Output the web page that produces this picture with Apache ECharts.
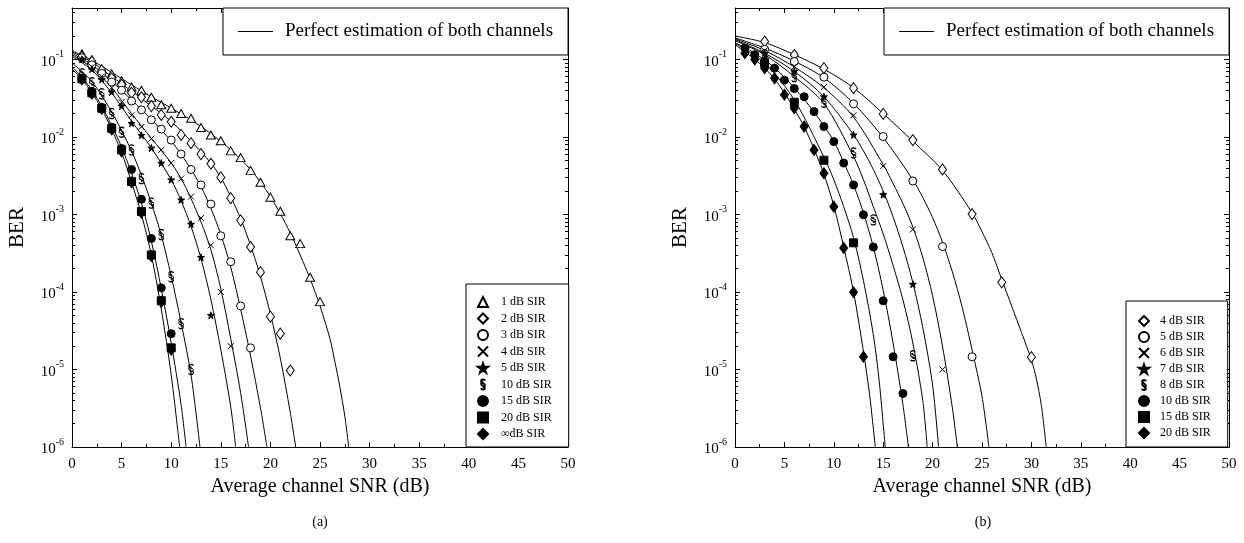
<!DOCTYPE html>
<html>
<head>
<meta charset="utf-8">
<script src="https://cdn.jsdelivr.net/npm/echarts@6/dist/echarts.min.js"></script>
<style>
html,body{margin:0;padding:0;background:#fff;}
#chart{width:1244px;height:543px;}
</style>
</head>
<body>
<div id="chart"></div>
<script>
// ---------------- DATA ----------------
const xTicks = [0, 5, 10, 15, 20, 25, 30, 35, 40, 45, 50];
const lineName = 'Perfect estimation of both channels';

// Chart (a): simulated points (markers)
const a1_x = [1,2,3,4,5,6,7,8,9,10,11,12,13,14,15,16,17,18,19,20,21,22,23,24,25];
const a1_y = [0.118,0.099,0.075,0.065,0.053,0.044,0.040,0.0325,0.026,0.0234,0.020,0.0174,0.0132,0.0106,0.0089,0.0066,0.0054,0.0037,0.0026,0.00167,0.0011,0.00053,0.00042,0.000155,0.000075];
const a2_x = [1,2,3,4,5,6,7,8,9,10,11,12,13,14,15,16,17,18,19,20,21,22];
const a2_y = [0.109,0.094,0.072,0.057,0.047,0.037,0.0325,0.025,0.0192,0.0157,0.0106,0.0083,0.0060,0.0045,0.0030,0.00162,0.00084,0.00038,0.00018,0.000048,0.000029,0.0000097];
const a3_x = [1,2,3,4,5,6,7,8,9,10,11,12,13,14,15,16,17,18];
const a3_y = [0.105,0.085,0.066,0.051,0.040,0.029,0.0223,0.0166,0.0126,0.0091,0.0060,0.0038,0.0024,0.00136,0.00053,0.000245,0.000066,0.000019];
const a4_x = [1,2,3,4,5,6,7,8,9,10,11,12,13,14,15,16];
const a4_y = [0.100,0.080,0.060,0.043,0.028,0.019,0.0135,0.0095,0.0068,0.0046,0.0029,0.0017,0.0009,0.0004,0.0001,0.00002];
const a5_x = [1,2,3,4,5,6,7,8,9,10,11,12,13,14];
const a5_y = [0.100,0.075,0.055,0.038,0.025,0.015,0.0105,0.0072,0.0046,0.0028,0.00154,0.00075,0.00028,0.00005];
const a10_x = [1,2,3,4,5,6,7,8,9,10,11,12];
const a10_y = [0.065,0.050,0.036,0.020,0.0115,0.0068,0.0029,0.0014,0.00055,0.000157,0.000039,0.00001];
const a15_x = [1,2,3,4,5,6,7,8,9,10];
const a15_y = [0.057,0.038,0.024,0.0133,0.0071,0.0038,0.00157,0.00049,0.000113,0.000029];
const a20_x = [1,2,3,4,5,6,7,8,9,10];
const a20_y = [0.056,0.037,0.0234,0.0129,0.0068,0.00265,0.00109,0.00030,0.000077,0.000019];
const aInf_x = [1,2,3,4,5,6,7,8,9,10];
const aInf_y = [0.055,0.036,0.023,0.0125,0.0065,0.0026,0.00105,0.00029,0.000075,0.000018];

// Chart (a): perfect-estimation curves
const ta1_x = [0,2,4,6,8,10,12,14,16,18,19,20,21,22,23,24,25,26,26.5,27,27.5,27.9];
const ta1_y = [0.13,0.097,0.068,0.047,0.033,0.0235,0.0165,0.011,0.0068,0.0038,0.0026,0.0017,0.00102,0.00058,0.0003,0.000148,0.000066,0.000025,0.0000126,0.000006,0.0000025,0.000001];
const ta2_x = [0,2,4,6,8,10,12,14,15,16,17,18,19,20,21,22,22.55];
const ta2_y = [0.125,0.092,0.06,0.039,0.025,0.0158,0.0088,0.0046,0.003,0.0017,0.00088,0.0004,0.000158,0.000052,0.000014,0.0000028,0.000001];
const ta3_x = [0,2,4,6,8,10,11,12,13,14,15,16,17,18,19,19.65];
const ta3_y = [0.12,0.085,0.052,0.03,0.0168,0.0088,0.006,0.0038,0.0023,0.0012,0.00055,0.00021,0.00006,0.000015,0.0000032,0.000001];
const ta4_x = [0,2,4,6,8,10,11,12,13,14,15,16,17,17.8];
const ta4_y = [0.115,0.078,0.043,0.02,0.0096,0.0046,0.0029,0.0016,0.0008,0.00035,0.00011,0.000025,0.000005,0.000001];
const ta5_x = [0,2,4,6,8,10,11,12,13,14,15,16,16.5];
const ta5_y = [0.11,0.073,0.037,0.016,0.0072,0.0028,0.0015,0.0007,0.00027,0.00008,0.000018,0.0000033,0.000001];
const ta10_x = [0,2,4,5,6,7,8,9,10,11,12,12.9];
const ta10_y = [0.09,0.052,0.021,0.012,0.0066,0.0032,0.0014,0.00054,0.00016,0.00004,0.0000085,0.000001];
const ta15_x = [0,1,2,3,4,5,6,7,8,9,10,11,11.5];
const ta15_y = [0.08,0.059,0.04,0.025,0.014,0.0074,0.0034,0.0014,0.00045,0.00011,0.000022,0.0000035,0.000001];
const ta20_x = [0,1,2,3,4,5,6,7,8,9,10,10.85];
const ta20_y = [0.075,0.056,0.037,0.023,0.0125,0.0063,0.0026,0.001,0.0003,0.00006,0.0000085,0.000001];

// Chart (b): simulated points (markers)
const b4_x = [3,6,9,12,15,18,21,24,27,30];
const b4_y = [0.17,0.114,0.077,0.0425,0.0198,0.0091,0.0038,0.00101,0.000133,0.0000144];
const b5_x = [3,6,9,12,15,18,21,24];
const b5_y = [0.135,0.094,0.059,0.0267,0.0101,0.0027,0.000385,0.0000146];
const b6_x = [3,6,9,12,15,18,21];
const b6_y = [0.13,0.08,0.044,0.019,0.0042,0.00064,0.00001];
const b7_x = [3,6,9,12,15,18];
const b7_y = [0.12,0.07,0.033,0.0106,0.0018,0.000126];
const b8_x = [3,6,9,12,14,18];
const b8_y = [0.115,0.06,0.028,0.0062,0.00085,0.000015];
const b10_x = [1,2,3,4,5,6,7,8,9,10,11,12,13,14,15,16,17];
const b10_y = [0.14,0.115,0.095,0.077,0.054,0.042,0.033,0.0212,0.0136,0.0087,0.0046,0.0024,0.00099,0.00038,0.000077,0.0000146,0.0000049];
const b15_x = [3,6,9,12];
const b15_y = [0.09,0.028,0.005,0.00043];
const b20_x = [1,2,3,4,5,6,7,8,9,10,11,12,13];
const b20_y = [0.12,0.1,0.077,0.057,0.035,0.0234,0.0136,0.0068,0.0034,0.00126,0.00037,0.000099,0.0000146];

// Chart (b): perfect-estimation curves
const tb4_x = [0,3,6,9,12,15,18,21,24,25,26,27,28,29,30,30.5,31,31.5];
const tb4_y = [0.2,0.165,0.115,0.075,0.043,0.02,0.0088,0.0037,0.00105,0.0006,0.00032,0.000145,0.000066,0.00003,0.0000132,0.0000076,0.0000035,0.000001];
const tb5_x = [0,3,6,9,12,15,18,19,20,21,22,23,24,25,25.7];
const tb5_y = [0.19,0.14,0.095,0.058,0.027,0.0098,0.0028,0.00166,0.00091,0.00044,0.000182,0.000063,0.0000178,0.0000045,0.000001];
const tb6_x = [0,3,6,9,12,15,16,17,18,19,20,21,22,22.5];
const tb6_y = [0.185,0.13,0.08,0.043,0.018,0.0044,0.0025,0.00138,0.00069,0.00028,0.000089,0.00002,0.0000032,0.000001];
const tb7_x = [0,3,6,9,12,13,14,15,16,17,18,19,20,20.6];
const tb7_y = [0.18,0.12,0.07,0.033,0.0107,0.0066,0.0038,0.002,0.00093,0.00038,0.000132,0.000035,0.0000063,0.000001];
const tb8_x = [0,3,6,9,12,13,14,15,16,17,18,19,19.45];
const tb8_y = [0.175,0.115,0.06,0.027,0.0056,0.0028,0.00126,0.00056,0.00022,0.000079,0.000022,0.000004,0.000001];
const tb10_x = [0,2,4,6,8,10,11,12,13,14,15,16,17,17.55];
const tb10_y = [0.165,0.12,0.078,0.043,0.021,0.0088,0.0047,0.0024,0.00105,0.00038,0.000105,0.000022,0.0000035,0.000001];
const tb15_x = [0,3,6,9,10,11,12,13,14,14.6,15.2];
const tb15_y = [0.16,0.09,0.03,0.0055,0.0028,0.00126,0.0005,0.00014,0.000028,0.000007,0.000001];
const tb20_x = [0,1,2,3,4,5,6,7,8,9,10,11,12,13,13.6,14.2];
const tb20_y = [0.155,0.125,0.1,0.077,0.056,0.037,0.023,0.0135,0.007,0.0033,0.0013,0.00038,0.0001,0.000017,0.000005,0.000001];

// Legend labels
const legendA = ['1 dB SIR','2 dB SIR','3 dB SIR','4 dB SIR','5 dB SIR','10 dB SIR','15 dB SIR','20 dB SIR','\u221EdB SIR'];
const legendB = ['4 dB SIR','5 dB SIR','6 dB SIR','7 dB SIR','8 dB SIR','10 dB SIR','15 dB SIR','20 dB SIR'];

// ---------------- STYLE ----------------
const SERIF = '"Liberation Serif", "DejaVu Serif", serif';
const P_X = 'path://M0,0L10,10M10,0L0,10';
const P_STAR = 'path://M5,0L6.18,3.62L10,3.62L6.91,5.86L8.09,9.5L5,7.24L1.91,9.5L3.09,5.86L0,3.62L3.82,3.62Z';
const P_SECT = 'path://M8,3C8,0 2,0 2,3.5C2,7 8,6.5 8,10C8,12 6,13 4.5,13M2,15C2,18 8,18 8,14.5C8,11 2,11.5 2,8C2,6 4,5 5.5,5';

const MK = {
  tri:  {symbol:'triangle', size:[9,8],  fill:'#fff'},
  dia:  {symbol:'diamond',  size:[8,11], fill:'#fff'},
  cir:  {symbol:'circle',   size:8,      fill:'#fff'},
  x:    {symbol:P_X,        size:6,      fill:'rgba(0,0,0,0)'},
  star: {symbol:P_STAR,     size:7,      fill:'#000'},
  sect: {symbol:P_SECT,     size:[5,10], fill:'rgba(0,0,0,0)'},
  fcir: {symbol:'circle',   size:8,      fill:'#000'},
  sq:   {symbol:'rect',     size:8,      fill:'#000'},
  fdia: {symbol:'diamond',  size:[8,11], fill:'#000'}
};

function zip(xs, ys){ return xs.map((x,i)=>[x, ys[i]]); }

function markerSeries(name, idx, xs, ys, mk, z){
  const m = MK[mk];
  return {
    type:'scatter', name:name, xAxisIndex:idx*2, yAxisIndex:idx*2,
    data: zip(xs, ys), symbol:m.symbol, symbolSize:m.size, z: z || 3,
    itemStyle:{color:m.fill, borderColor:'#000', borderWidth:1, opacity:1},
    emphasis:{disabled:true}, silent:true
  };
}
function curveSeries(idx, xs, ys){
  return {
    type:'line', name:lineName, xAxisIndex:idx*2, yAxisIndex:idx*2,
    data: zip(xs, ys), symbol:'none', showSymbol:false, smooth:0.3,
    lineStyle:{color:'#000', width:1}, itemStyle:{color:'#000'}, z:2,
    emphasis:{disabled:true}, silent:true, clip:true
  };
}

const grids = [
  {left:72, top:8, width:496, height:439},
  {left:735, top:8, width:494, height:439}
];

function xAxes(gi){
  const base = {
    gridIndex:gi, type:'value', min:0, max:50, interval:5,
    axisLine:{show:true, onZero:false, lineStyle:{color:'#000', width:1}},
    axisTick:{show:true, inside:true, length:5, lineStyle:{color:'#000'}},
    minorTick:{show:true, splitNumber:2, length:3, lineStyle:{color:'#000'}},
    splitLine:{show:false}
  };
  return [
    Object.assign({}, base, {position:'bottom',
      axisLabel:{show:true, fontSize:15, color:'#000', fontFamily:SERIF, margin:10,
        formatter:(v)=> xTicks.indexOf(v) >= 0 ? String(v) : ''},
      name:'Average channel SNR (dB)', nameLocation:'middle', nameGap:29,
      nameTextStyle:{fontSize:20, color:'#000', fontFamily:SERIF}}),
    Object.assign({}, base, {position:'top', axisLabel:{show:false}})
  ];
}
function powLabel(v){
  const l = Math.log10(v), e = Math.round(l);
  if (Math.abs(l - e) > 0.01) return '';
  return '{b|10}{e|' + e + '}';
}
function yAxes(gi){
  const base = {
    gridIndex:gi, type:'log', logBase:10, min:1e-6, max:0.46,
    axisLine:{show:true, onZero:false, lineStyle:{color:'#000', width:1}},
    axisTick:{show:true, inside:true, length:5, lineStyle:{color:'#000'}},
    minorTick:{show:true, splitNumber:9, length:3, lineStyle:{color:'#000'}},
    splitLine:{show:false}
  };
  return [
    Object.assign({}, base, {position:'left',
      axisLabel:{show:true, margin:8, color:'#000', showMaxLabel:false,
        formatter:powLabel,
        rich:{
          b:{fontSize:15, fontFamily:SERIF, color:'#000', verticalAlign:'bottom', lineHeight:20},
          e:{fontSize:10, fontFamily:SERIF, color:'#000', verticalAlign:'top', lineHeight:20}
        }},
      name:'BER', nameLocation:'middle', nameGap:44, nameRotate:90,
      nameTextStyle:{fontSize:21, color:'#000', fontFamily:SERIF}}),
    Object.assign({}, base, {position:'right', axisLabel:{show:false}})
  ];
}

const xAxis = [].concat(xAxes(0), xAxes(1));
const yAxis = [].concat(yAxes(0), yAxes(1));

const nameA = legendA.map(s=>'a:'+s);
const nameB = legendB.map(s=>'b:'+s);

const series = [
  curveSeries(0, ta1_x, ta1_y), curveSeries(0, ta2_x, ta2_y), curveSeries(0, ta3_x, ta3_y),
  curveSeries(0, ta4_x, ta4_y), curveSeries(0, ta5_x, ta5_y), curveSeries(0, ta10_x, ta10_y),
  curveSeries(0, ta15_x, ta15_y), curveSeries(0, ta20_x, ta20_y),
  markerSeries(nameA[8], 0, aInf_x, aInf_y, 'fdia', 3),
  markerSeries(nameA[0], 0, a1_x, a1_y, 'tri', 4),
  markerSeries(nameA[1], 0, a2_x, a2_y, 'dia', 4),
  markerSeries(nameA[2], 0, a3_x, a3_y, 'cir', 4),
  markerSeries(nameA[3], 0, a4_x, a4_y, 'x', 4),
  markerSeries(nameA[4], 0, a5_x, a5_y, 'star', 4),
  markerSeries(nameA[5], 0, a10_x, a10_y, 'sect', 4),
  markerSeries(nameA[6], 0, a15_x, a15_y, 'fcir', 4),
  markerSeries(nameA[7], 0, a20_x, a20_y, 'sq', 5),

  curveSeries(1, tb4_x, tb4_y), curveSeries(1, tb5_x, tb5_y), curveSeries(1, tb6_x, tb6_y),
  curveSeries(1, tb7_x, tb7_y), curveSeries(1, tb8_x, tb8_y), curveSeries(1, tb10_x, tb10_y),
  curveSeries(1, tb15_x, tb15_y), curveSeries(1, tb20_x, tb20_y),
  markerSeries(nameB[0], 1, b4_x, b4_y, 'dia', 4),
  markerSeries(nameB[1], 1, b5_x, b5_y, 'cir', 4),
  markerSeries(nameB[2], 1, b6_x, b6_y, 'x', 4),
  markerSeries(nameB[3], 1, b7_x, b7_y, 'star', 4),
  markerSeries(nameB[4], 1, b8_x, b8_y, 'sect', 4),
  markerSeries(nameB[5], 1, b10_x, b10_y, 'fcir', 4),
  markerSeries(nameB[6], 1, b15_x, b15_y, 'sq', 5),
  markerSeries(nameB[7], 1, b20_x, b20_y, 'fdia', 5)
];

function lineLegend(left){
  return {
    data:[{name:lineName, icon:'rect'}], left:left, top:8, orient:'horizontal',
    padding:[14,15,14,15], itemWidth:35, itemHeight:1,
    backgroundColor:'#fff', borderColor:'#000', borderWidth:1,
    selectedMode:false,
    itemStyle:{color:'#000', borderWidth:0},
    textStyle:{fontSize:19, color:'#000', fontFamily:SERIF, padding:[0,0,0,7], lineHeight:17}
  };
}
function markLegend(names, left, top, pad, textPad, gap){
  return {
    data:names, left:left, top:top, orient:'vertical',
    padding:pad, itemGap:gap, itemWidth:10, itemHeight:10,
    backgroundColor:'#fff', borderColor:'#000', borderWidth:1,
    selectedMode:false,
    formatter:(n)=>n.replace(/^[ab]:/, ''),
    textStyle:{fontSize:12, color:'#000', fontFamily:SERIF, padding:[0,0,0,textPad]}
  };
}

const option = {
  animation:false,
  backgroundColor:'#fff',
  grid:grids,
  xAxis:xAxis,
  yAxis:yAxis,
  legend:[
    lineLegend(223),
    lineLegend(884),
    markLegend(nameA, 466, 284, [12,17,7,11], 8, 4.5),
    markLegend(nameB, 1126, 301, [14,17,8,12], 6, 4)
  ],
  graphic:[
    {type:'text', x:320, y:515, style:{text:'(a)', font:'14px ' + SERIF, fill:'#000', textAlign:'center'}},
    {type:'text', x:983, y:515, style:{text:'(b)', font:'14px ' + SERIF, fill:'#000', textAlign:'center'}}
  ],
  series:series
};

const chart = echarts.init(document.getElementById('chart'), null, {renderer:'canvas'});
chart.setOption(option);
</script>
</body>
</html>
